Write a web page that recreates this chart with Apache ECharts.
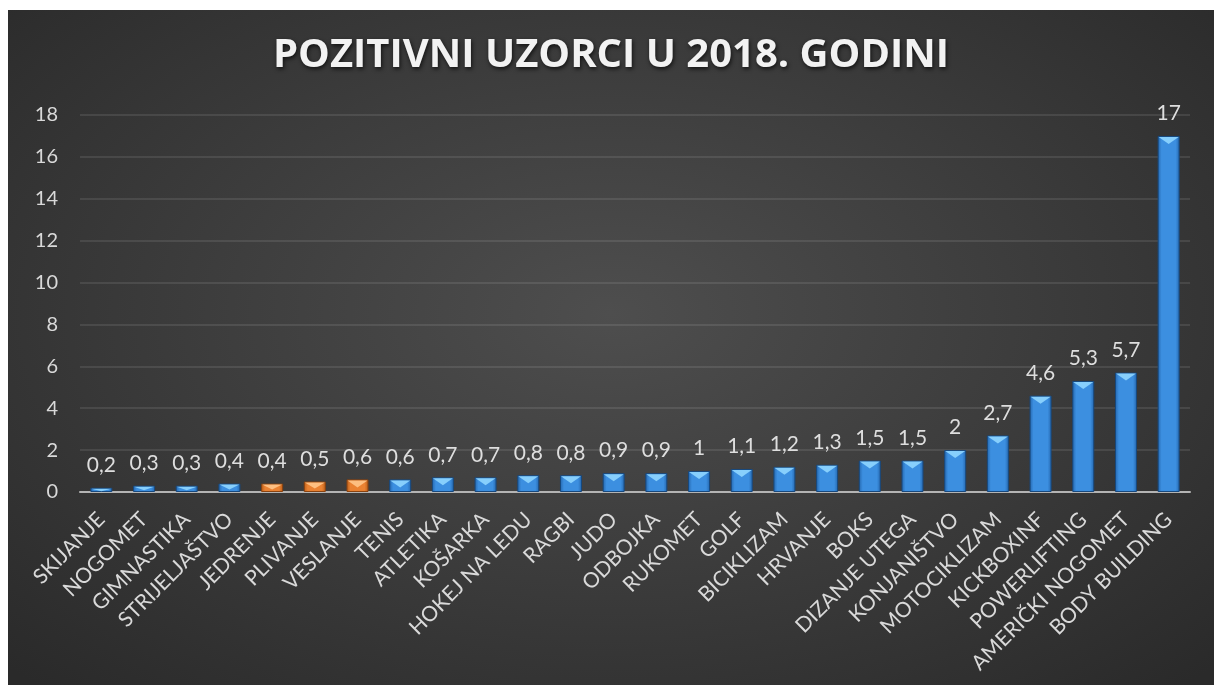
<!DOCTYPE html>
<html>
<head>
<meta charset="utf-8">
<script src="https://cdn.jsdelivr.net/npm/echarts@6/dist/echarts.min.js"></script>
<style>
html,body{margin:0;padding:0;background:#ffffff;width:1214px;height:685px;overflow:hidden;}
#wrap{position:absolute;left:8px;top:10px;width:1206px;height:675px;
background:radial-gradient(ellipse 70% 75% at 50% 45%, #4e4e4e 0%, #3e3e3e 45%, #2a2a2a 100%);}
#chart{width:1206px;height:675px;}
</style>
</head>
<body>
<div id="wrap"><div id="chart"></div></div>
<script>
const titleText = 'POZITIVNI UZORCI U 2018. GODINI';
const categories = ['SKIJANJE','NOGOMET','GIMNASTIKA','STRIJELJAŠTVO','JEDRENJE','PLIVANJE','VESLANJE','TENIS','ATLETIKA','KOŠARKA','HOKEJ NA LEDU','RAGBI','JUDO','ODBOJKA','RUKOMET','GOLF','BICIKLIZAM','HRVANJE','BOKS','DIZANJE UTEGA','KONJANIŠTVO','MOTOCIKLIZAM','KICKBOXINF','POWERLIFTING','AMERIČKI NOGOMET','BODY BUILDING'];
const values = [0.2,0.3,0.3,0.4,0.4,0.5,0.6,0.6,0.7,0.7,0.8,0.8,0.9,0.9,1,1.1,1.2,1.3,1.5,1.5,2,2.7,4.6,5.3,5.7,17];
const highlighted = ['JEDRENJE','PLIVANJE','VESLANJE'];
const yTicks = {min:0, max:18, interval:2};

const FONT = 'Lato, "Open Sans", sans-serif';
function grad(c1, c2) {
  return {type:'linear', x:0, y:0, x2:1, y2:0, colorStops:[
    {offset:0, color:c2},{offset:0.18, color:c1},{offset:0.82, color:c1},{offset:1, color:c2}]};
}
const blueFill = grad('#3c8fe0', '#2466ad');
const orangeFill = grad('#ea8232', '#b85d18');
const isHi = c => highlighted.indexOf(c) >= 0;

const chart = echarts.init(document.getElementById('chart'), null, {renderer:'canvas'});
chart.setOption({
  backgroundColor:'transparent',
  animation:false,
  title:{
    text:titleText, left:'center', top:21,
    textStyle:{color:'#f2f2f2', fontFamily:'"Open Sans", sans-serif', fontWeight:'bold', fontSize:40,
      textShadowColor:'rgba(0,0,0,0.7)', textShadowBlur:4, textShadowOffsetX:1, textShadowOffsetY:2}
  },
  grid:{left:72, right:24, top:105, bottom:193, containLabel:false},
  xAxis:{
    type:'category', data:categories,
    axisLine:{show:true, lineStyle:{color:'#b4b4b4', width:2}},
    axisTick:{show:false},
    axisLabel:{rotate:45, interval:0, color:'#d9d9d9', fontFamily:FONT, fontSize:21, margin:24}
  },
  yAxis:{
    type:'value', min:yTicks.min, max:yTicks.max, interval:yTicks.interval,
    axisLine:{show:false}, axisTick:{show:false},
    axisLabel:{color:'#d9d9d9', fontFamily:FONT, fontSize:20, margin:22},
    splitLine:{lineStyle:{color:'rgba(255,255,255,0.13)', width:1.5}}
  },
  series:[{
    type:'bar', barWidth:22, z:2,
    data:values.map((v,i)=>({value:v, itemStyle:{color:isHi(categories[i])?orangeFill:blueFill,
      borderColor:isHi(categories[i])?'#8a4310':'#18497e', borderWidth:1}})),
    label:{show:true, position:'top', distance:12, color:'#dedede', fontFamily:FONT, fontSize:21,
      formatter:p=>String(p.value).replace('.', ',')}
  },{
    type:'pictorialBar', z:3, barGap:'-100%', symbol:'triangle', symbolRotate:180,
    symbolPosition:'end', symbolOffset:[0,1], silent:true,
    data:values.map((v,i)=>({value:v, symbolSize:[20, Math.min(7, v*12)],
      itemStyle:{color:isHi(categories[i])?'#ffc58a':'#8fd6ff', opacity:0.9}}))
  }]
});
</script>
</body>
</html>
